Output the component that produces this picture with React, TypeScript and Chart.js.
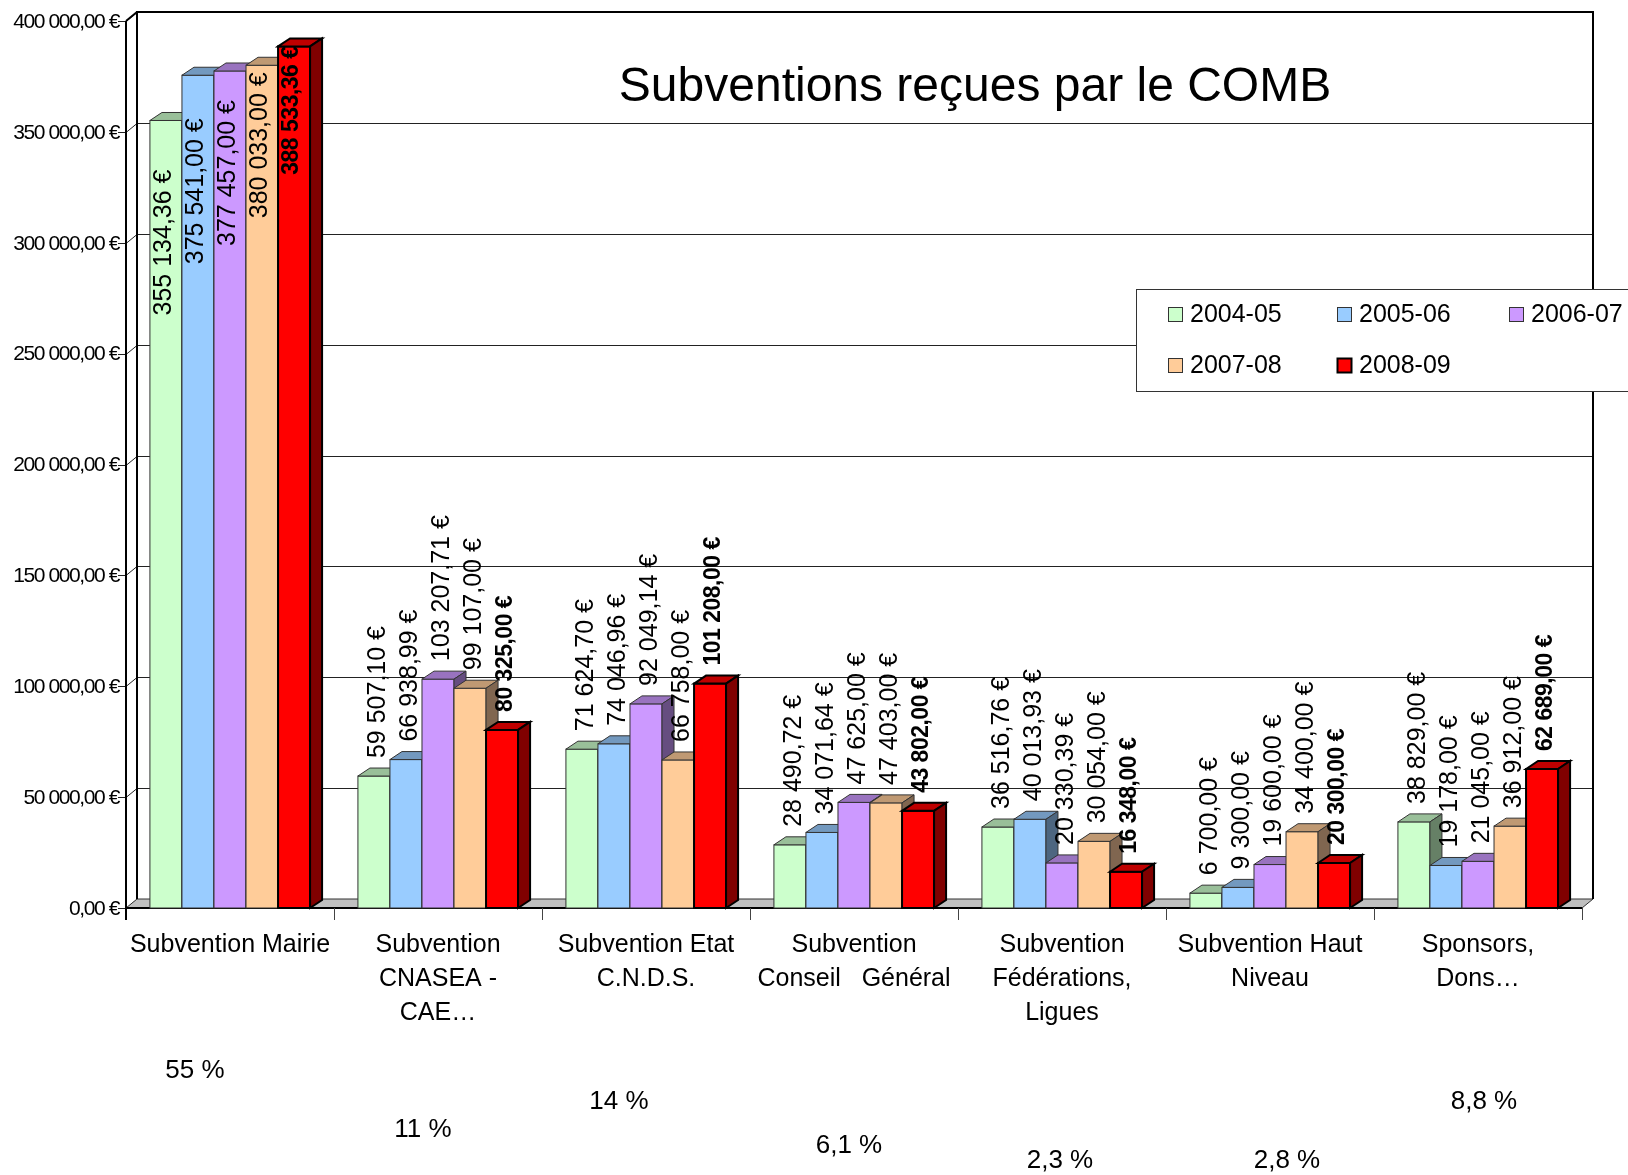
import React, { useEffect, useRef } from "react";
import { Chart, registerables } from "chart.js";

Chart.register(...registerables);

// ---------- data ----------
const categories: string[][] = [
  ["Subvention Mairie"],
  ["Subvention", "CNASEA -", "CAE…"],
  ["Subvention Etat", "C.N.D.S."],
  ["Subvention", "Conseil   Général"],
  ["Subvention", "Fédérations,", "Ligues"],
  ["Subvention Haut", "Niveau"],
  ["Sponsors,", "Dons…"],
];
const seasons = ["2004-05", "2005-06", "2006-07", "2007-08", "2008-09"];
const values2004 = [355134.36, 59507.1, 71624.7, 28490.72, 36516.76, 6700.0, 38829.0];
const values2005 = [375541.0, 66938.99, 74046.96, 34071.64, 40013.93, 9300.0, 19178.0];
const values2006 = [377457.0, 103207.71, 92049.14, 47625.0, 20330.39, 19600.0, 21045.0];
const values2007 = [380033.0, 99107.0, 66758.0, 47403.0, 30054.0, 34400.0, 36912.0];
const values2008 = [388533.36, 80325.0, 101208.0, 43802.0, 16348.0, 20300.0, 62689.0];
const shares = ["55 %", "11 %", "14 %", "6,1 %", "2,3 %", "2,8 %", "8,8 %"];
const yTickValues = [0, 50000, 100000, 150000, 200000, 250000, 300000, 350000, 400000];
const titleText = "Subventions reçues par le COMB";

// ---------- styles / layout ----------
const FONT = "'Liberation Sans', Arial, sans-serif";
const frontColors = ["#CCFFCC", "#99CCFF", "#CC99FF", "#FFCC99", "#FF0000"];
const topColors = ["#99BF99", "#7399BF", "#9973BF", "#BF9973", "#BF0000"];
const sideColors = ["#668066", "#4D6680", "#664D80", "#806650", "#800000"];
const shareLayout = [
  { dx: -35, y: 1071 },
  { dx: -15, y: 1130 },
  { dx: -27, y: 1102 },
  { dx: -5, y: 1146 },
  { dx: -2, y: 1161 },
  { dx: 17, y: 1161 },
  { dx: 6, y: 1102 },
];
const insideOffsets = [49, 43, 29, 7, 0];
const WALL_DX = 11;
const WALL_DY = 9;
const BAR_DX = 12;
const BAR_DY = 8;

function fmtEuro(v: number): string {
  const [ip, dp] = v.toFixed(2).split(".");
  const sp = ip.replace(/\B(?=(\d{3})+(?!\d))/g, " ");
  return `${sp},${dp} €`;
}

const threeDPlugin = {
  id: "threeD",
  beforeDatasetsDraw(chart: any) {
    const { ctx, chartArea, scales } = chart;
    const ys = scales.y;
    const xs = scales.x;
    const L = chartArea.left;
    const R = chartArea.right;
    const T = chartArea.top;
    const B = chartArea.bottom;
    ctx.save();

    // gridlines with 3D ticks
    ctx.strokeStyle = "#222";
    ctx.lineWidth = 1;
    yTickValues.forEach((v, idx) => {
      const y = Math.round(ys.getPixelForValue(v)) + 0.5;
      ctx.beginPath();
      ctx.moveTo(L - 8, y);
      ctx.lineTo(L, y);
      ctx.lineTo(L + WALL_DX, y - WALL_DY);
      if (idx > 0 && idx < yTickValues.length - 1) ctx.lineTo(R + WALL_DX, y - WALL_DY);
      ctx.stroke();
    });

    // floor
    ctx.fillStyle = "#C0C0C0";
    ctx.strokeStyle = "#333";
    ctx.lineWidth = 1;
    ctx.beginPath();
    ctx.moveTo(L, B);
    ctx.lineTo(L + WALL_DX, B - WALL_DY);
    ctx.lineTo(R + WALL_DX, B - WALL_DY);
    ctx.lineTo(R, B);
    ctx.closePath();
    ctx.fill();
    ctx.stroke();

    // walls
    ctx.strokeStyle = "#000";
    ctx.lineWidth = 2;
    const line = (x1: number, y1: number, x2: number, y2: number) => {
      ctx.beginPath();
      ctx.moveTo(x1, y1);
      ctx.lineTo(x2, y2);
      ctx.stroke();
    };
    line(L + WALL_DX, T - WALL_DY, L + WALL_DX, B - WALL_DY);
    line(L + WALL_DX - 1, T - WALL_DY, R + WALL_DX + 1, T - WALL_DY);
    line(R + WALL_DX, T - WALL_DY, R + WALL_DX, B - WALL_DY);
    line(L, T, L + WALL_DX, T - WALL_DY);
    line(L, T, L, B + 12);
    line(L, B, R, B);

    // category ticks
    ctx.strokeStyle = "#444";
    ctx.lineWidth = 1;
    const n = categories.length;
    const cw = (R - L) / n;
    for (let i = 1; i <= n; i++) {
      const x = Math.round(L + i * cw) + 0.5;
      line(x, B, x, B + 12);
    }

    // y tick labels
    ctx.fillStyle = "#000";
    ctx.font = `21px ${FONT}`;
    (ctx as any).letterSpacing = "-1.4px";
    ctx.textAlign = "right";
    ctx.textBaseline = "middle";
    yTickValues.forEach((v) => {
      const y = ys.getPixelForValue(v);
      ctx.fillText(fmtEuro(v), L - 7, y + 1);
    });
    (ctx as any).letterSpacing = "0px";

    // category labels
    ctx.font = `25px ${FONT}`;
    ctx.textAlign = "center";
    categories.forEach((lines, i) => {
      const cx = xs.getPixelForValue(i);
      lines.forEach((t, k) => {
        ctx.fillText(t, cx, 945 + k * 34);
      });
    });

    // shares
    ctx.font = `26px ${FONT}`;
    shares.forEach((s, i) => {
      const cx = xs.getPixelForValue(i);
      ctx.fillText(s, cx + shareLayout[i].dx, shareLayout[i].y);
    });

    // title
    ctx.font = `48px ${FONT}`;
    ctx.textBaseline = "alphabetic";
    ctx.fillText(titleText, 975, 101);
    ctx.restore();
  },
  afterDatasetsDraw(chart: any) {
    const { ctx } = chart;
    ctx.save();
    const nd = chart.data.datasets.length;
    const geo: any[][] = [];
    for (let d = 0; d < nd; d++) {
      const meta = chart.getDatasetMeta(d);
      geo[d] = [];
      meta.data.forEach((el: any, i: number) => {
        const { x, y, base, width } = el.getProps(["x", "y", "base", "width"], true);
        const l = x - width / 2;
        const r = x + width / 2;
        geo[d][i] = { x, y, base, l, r };
        const lw = d === nd - 1 ? 2 : 1;
        ctx.lineWidth = lw;
        ctx.strokeStyle = d === nd - 1 ? "#000" : "#333";
        ctx.lineJoin = "miter";
        // front
        ctx.fillStyle = frontColors[d];
        ctx.fillRect(l, y, width, base - y);
        ctx.strokeRect(l, y, width, base - y);
        // top
        ctx.fillStyle = topColors[d];
        ctx.beginPath();
        ctx.moveTo(l, y);
        ctx.lineTo(l + BAR_DX, y - BAR_DY);
        ctx.lineTo(r + BAR_DX, y - BAR_DY);
        ctx.lineTo(r, y);
        ctx.closePath();
        ctx.fill();
        ctx.stroke();
        // side
        ctx.fillStyle = sideColors[d];
        ctx.beginPath();
        ctx.moveTo(r, y);
        ctx.lineTo(r + BAR_DX, y - BAR_DY);
        ctx.lineTo(r + BAR_DX, base - BAR_DY);
        ctx.lineTo(r, base);
        ctx.closePath();
        ctx.fill();
        ctx.stroke();
      });
    }

    // data labels
    ctx.fillStyle = "#000";
    ctx.textBaseline = "middle";
    for (let d = 0; d < nd; d++) {
      const data = chart.data.datasets[d].data as number[];
      data.forEach((v: number, i: number) => {
        const g = geo[d][i];
        const bold = d === nd - 1;
        ctx.font = bold ? `bold 23px ${FONT}` : `25px ${FONT}`;
        (ctx as any).letterSpacing = bold ? "-0.5px" : "0px";
        ctx.save();
        if (i === 0) {
          ctx.translate(g.x - 2, g.y + insideOffsets[d]);
          ctx.rotate(-Math.PI / 2);
          ctx.textAlign = "right";
        } else {
          ctx.translate(g.x + 4, g.y - 18);
          ctx.rotate(-Math.PI / 2);
          ctx.textAlign = "left";
        }
        ctx.fillText(fmtEuro(v), 0, 0);
        ctx.restore();
      });
    }
    (ctx as any).letterSpacing = "0px";

    // legend
    ctx.fillStyle = "#fff";
    ctx.fillRect(1136, 289, 520, 102);
    ctx.strokeStyle = "#333";
    ctx.lineWidth = 1;
    ctx.strokeRect(1136.5, 289.5, 520, 102);
    const cols = [1168, 1337, 1509];
    const rows = [314, 365];
    ctx.font = `25px ${FONT}`;
    ctx.textAlign = "left";
    ctx.textBaseline = "middle";
    chart.data.datasets.forEach((ds: any, d: number) => {
      const cx = cols[d % 3];
      const cy = rows[Math.floor(d / 3)];
      ctx.fillStyle = frontColors[d];
      ctx.fillRect(cx, cy - 7, 14, 14);
      ctx.strokeStyle = d === nd - 1 ? "#000" : "#333";
      ctx.lineWidth = d === nd - 1 ? 2 : 1;
      ctx.strokeRect(cx + 0.5, cy - 6.5, 14, 14);
      ctx.fillStyle = "#000";
      ctx.fillText(ds.label, cx + 22, cy + 1);
    });
    ctx.restore();
  },
};

export default function App() {
  const ref = useRef<HTMLCanvasElement | null>(null);
  useEffect(() => {
    if (!ref.current) return;
    const series = [values2004, values2005, values2006, values2007, values2008];
    const chart = new Chart(ref.current, {
      type: "bar",
      data: {
        labels: categories.map((c) => c.join(" ")),
        datasets: series.map((vals, d) => ({
          label: seasons[d],
          data: vals,
          backgroundColor: frontColors[d],
          borderColor: "#000",
          borderWidth: 1,
          categoryPercentage: 0.77,
          barPercentage: 1,
        })),
      },
      options: {
        animation: false,
        responsive: false,
        devicePixelRatio: 1,
        layout: { padding: { left: 126, right: 46, top: 21, bottom: 267 } },
        scales: {
          x: { display: false },
          y: { display: false, min: 0, max: 400000 },
        },
        plugins: {
          legend: { display: false },
          tooltip: { enabled: false },
          title: { display: false },
        },
        events: [],
      },
      plugins: [threeDPlugin],
    });
    return () => chart.destroy();
  }, []);
  return (
    <div style={{ position: "fixed", left: 0, top: 0, width: 1628, height: 1175, background: "#fff" }}>
      <canvas ref={ref} width={1628} height={1175} style={{ width: 1628, height: 1175, display: "block" }} />
    </div>
  );
}
